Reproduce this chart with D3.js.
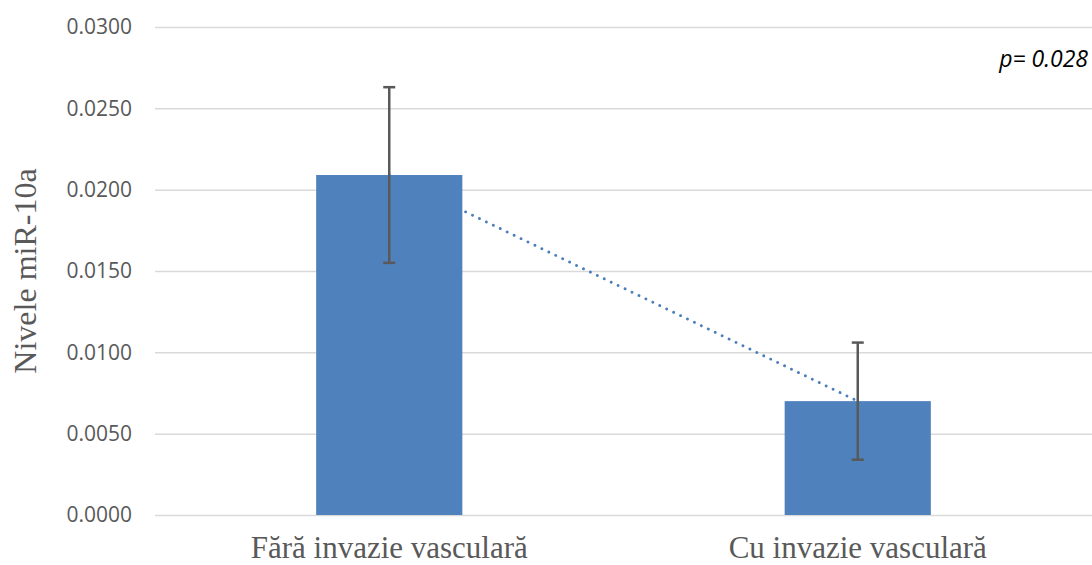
<!DOCTYPE html>
<html>
<head>
<meta charset="utf-8">
<script src="https://cdn.jsdelivr.net/npm/d3@7"></script>
<style>
  html, body { margin: 0; padding: 0; background: #fff; }
  svg { display: block; }
</style>
</head>
<body>
<svg id="chart" width="1092" height="565"></svg>
<script>
// miR-10a levels by vascular invasion status
const categories = ["Fără invazie vasculară", "Cu invazie vasculară"];
const means = [0.0209, 0.0070];
const errors = [0.0054, 0.0036];
const yTicks = [0, 0.005, 0.010, 0.015, 0.020, 0.025, 0.030];
const pLabel = "p= 0.028";
const yTitle = "Nivele miR-10a";

const svg = d3.select("#chart");
const plot = { left: 155, right: 1092, top: 27, bottom: 515 };

const x = d3.scaleBand()
  .domain(categories)
  .range([plot.left, plot.right])
  .paddingInner(0.688)
  .paddingOuter(0.344);

const y = d3.scaleLinear()
  .domain([0, 0.03])
  .range([plot.bottom, plot.top]);

// gridlines + tick labels
const yAxis = d3.axisLeft(y)
  .tickValues(yTicks)
  .tickFormat(d3.format(".4f"))
  .tickSize(-(plot.right - plot.left))
  .tickPadding(23);

const gy = svg.append("g")
  .attr("transform", `translate(${plot.left},0)`)
  .call(yAxis);
gy.select(".domain").remove();
gy.selectAll(".tick line").attr("stroke", "#d9d9d9").attr("stroke-width", 1.5);
gy.selectAll(".tick text")
  .attr("fill", "#595959")
  .style("font-family", "'Open Sans', 'Liberation Sans', sans-serif")
  .style("font-size", "21px");

// linear trend between the two groups, drawn behind the bars
const cx = d => x(d) + x.bandwidth() / 2;
svg.append("line")
  .attr("x1", cx(categories[0])).attr("y1", y(means[0]))
  .attr("x2", cx(categories[1])).attr("y2", y(means[1]))
  .attr("stroke", "#4a7ebb")
  .attr("stroke-width", 2.8)
  .attr("stroke-linecap", "round")
  .attr("stroke-dasharray", "0.1 7.6");

// bars
svg.append("g").selectAll("rect")
  .data(categories)
  .join("rect")
  .attr("x", d => x(d))
  .attr("width", x.bandwidth())
  .attr("y", (d, i) => y(means[i]))
  .attr("height", (d, i) => y(0) - y(means[i]))
  .attr("fill", "#4f81bd");

// error bars
const eb = svg.append("g").attr("stroke", "#595959").attr("stroke-width", 2.5);
categories.forEach((c, i) => {
  const hi = y(means[i] + errors[i]);
  const lo = y(means[i] - errors[i]);
  eb.append("line").attr("x1", cx(c)).attr("x2", cx(c)).attr("y1", hi).attr("y2", lo);
  eb.append("line").attr("x1", cx(c) - 6).attr("x2", cx(c) + 6).attr("y1", hi).attr("y2", hi);
  eb.append("line").attr("x1", cx(c) - 6).attr("x2", cx(c) + 6).attr("y1", lo).attr("y2", lo);
});

// category labels
svg.append("g").selectAll("text")
  .data(categories)
  .join("text")
  .attr("x", d => cx(d))
  .attr("y", 558)
  .attr("text-anchor", "middle")
  .attr("fill", "#595959")
  .style("font-family", "'Liberation Serif', 'Times New Roman', serif")
  .style("font-size", "31px")
  .text(d => d);

// y-axis title
svg.append("text")
  .attr("transform", "translate(36,271) rotate(-90)")
  .attr("text-anchor", "middle")
  .attr("fill", "#595959")
  .style("font-family", "'Liberation Serif', 'Times New Roman', serif")
  .style("font-size", "32px")
  .text(yTitle);

// significance annotation
svg.append("text")
  .attr("x", 1088)
  .attr("y", 67)
  .attr("text-anchor", "end")
  .attr("fill", "#000")
  .style("font-family", "'Open Sans', 'Liberation Sans', sans-serif")
  .style("font-style", "italic")
  .style("font-size", "23px")
  .text(pLabel);
</script>
</body>
</html>
